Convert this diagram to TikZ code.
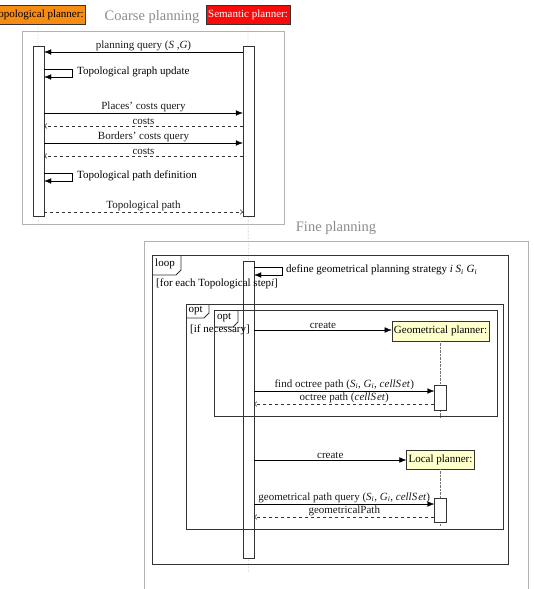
\documentclass[tikz,border=0pt]{standalone}
\usepackage{fontspec}
\setmainfont{Liberation Serif}
\usetikzlibrary{arrows.meta,calc}
\definecolor{orangebox}{RGB}{247,140,20}
\definecolor{redbox}{RGB}{250,10,10}
\definecolor{yellowbox}{RGB}{255,255,204}
\begin{document}
\begin{tikzpicture}[x=1pt,y=-1pt,
  font=\fontsize{11}{13}\selectfont,
  act/.style={draw=black!80, fill=white, minimum width=11pt, inner sep=0pt},
  msg/.style={draw=black, -{Latex[length=7pt,width=5.5pt]}},
  ret/.style={draw=black!80, dashed, -{Straight Barb[length=2.5pt,width=5pt]}},
  lifeline/.style={draw=black!55, densely dotted},
  frame/.style={draw=black!80, line width=0.8pt},
  bigframe/.style={draw=black!30, line width=0.8pt},
  ttl/.style={text=black!45, font=\fontsize{14.5}{16}\selectfont},
  lbl/.style={above, inner sep=1.2pt, text=black!90},
  actor/.style={draw=black!80, inner sep=2pt, minimum height=19pt}
]
\useasboundingbox (0,0) rectangle (533,589);
\clip (0,0) rectangle (533,589);

% actors
\node[actor, fill=orangebox] (topo) at (38,14.5) {Topological planner:};
\node[actor, fill=redbox, text=white] (sem) at (248,14.5) {Semantic planner:};
\node[ttl] (coarse) at (152,17) {Coarse planning};
\node[ttl] (fine) at (336,228) {Fine planning};

% lifelines
\draw[lifeline] (topo.south) -- (38.5,226);
\draw[lifeline] (sem.south) -- (248.5,572);

% coarse frame
\draw[bigframe] (22,31) rectangle (284,224);
% fine frame
\draw[bigframe] (144,241) rectangle (528,600);

% activations
\node[act, minimum height=170pt] (topA) at (38.5,131) {};
\node[act, minimum height=170pt] (semA) at (248.5,131) {};
\node[act, minimum height=297pt] (semB) at (248.5,409.5) {};

% coarse messages
\draw[msg] (semA.west |- 0,52) -- node[lbl] {planning query (\textit{S} ,\textit{G})} (topA.east |- 0,52);
\draw[msg] (topA.east |- 0,69) -- (72,69) -- (72,77) -- (topA.east |- 0,77);
\node[anchor=west, inner sep=0pt] (l1) at (77,72) {Topological graph update};
\draw[msg] (topA.east |- 0,113) -- node[lbl] {Places' costs query} (semA.west |- 0,113);
\draw[ret] (semA.west |- 0,126) -- node[lbl] {costs} (topA.east |- 0,126);
\draw[msg] (topA.east |- 0,143) -- node[lbl] {Borders' costs query} (semA.west |- 0,143);
\draw[ret] (semA.west |- 0,156) -- node[lbl] {costs} (topA.east |- 0,156);
\draw[msg] (topA.east |- 0,173) -- (72,173) -- (72,181) -- (topA.east |- 0,181);
\node[anchor=west, inner sep=0pt] (l2) at (77,176) {Topological path definition};
\draw[ret] (topA.east |- 0,212) -- node[lbl] {Topological path} (semA.west |- 0,212);

% fine planning: other actors
\node[actor, fill=yellowbox, minimum height=20pt] (geo) at (440.5,331) {Geometrical planner:};
\node[actor, fill=yellowbox, minimum height=19pt] (loc) at (440.5,459.5) {Local planner:};
\draw[lifeline] (geo.south) -- (440.5,418);
\draw[lifeline] (loc.south) -- (440.5,526);
\node[act, minimum width=12pt, minimum height=25pt] (geoA) at (440.5,397.5) {};
\node[act, minimum width=12pt, minimum height=24pt] (locA) at (440.5,510) {};

% loop frame
\draw[frame] (152,255) rectangle (508,564);
\draw[frame] (152,275) -- (176,275) -- (181,270) -- (181,255);
\node[anchor=west, inner sep=0pt] (loopt) at (155,264) {loop};
\node[anchor=west, inner sep=0pt] (loopc) at (156,284) {[for each Topological step\textit{i}]};

% opt outer
\draw[frame] (186,304) rectangle (503,529);
\draw[frame] (186,318) -- (204,318) -- (209,313) -- (209,304);
\node[anchor=west, inner sep=0pt] (optt1) at (188.5,311) {opt};
\node[anchor=west, inner sep=0pt] (optc1) at (190,330) {[if necessary]};

% opt inner
\draw[frame] (214,310) rectangle (497,416);
\draw[frame] (214,327) -- (233,327) -- (238,322) -- (238,310);
\node[anchor=west, inner sep=0pt] (optt2) at (217,318) {opt};

% fine messages
\draw[msg] (semB.east |- 0,267) -- (282,267) -- (282,275) -- (semB.east |- 0,275);
\node[anchor=west, inner sep=0pt] (l3) at (286,270) {define geometrical planning strategy \textit{i} \textit{S}\textsubscript{\textit{i}} \textit{G}\textsubscript{\textit{i}}};
\draw[msg] (semB.east |- 0,330) -- node[lbl] {create} (geo.west |- 0,330);
\draw[msg] (semB.east |- 0,391) -- node[lbl] {find octree path (\textit{S}\textsubscript{\textit{i}}, \textit{G}\textsubscript{\textit{i}}, \textit{cellS\kern1pt et})} (geoA.west |- 0,391);
\draw[ret] (geoA.west |- 0,404) -- node[lbl] {octree path (\textit{cellS\kern1pt et})} (semB.east |- 0,404);
\draw[msg] (semB.east |- 0,460) -- node[lbl] {create} (loc.west |- 0,460);
\draw[msg] (semB.east |- 0,504) -- node[lbl] {geometrical path query (\textit{S}\textsubscript{\textit{i}}, \textit{G}\textsubscript{\textit{i}}, \textit{cellS\kern1pt et})} (locA.west |- 0,504);
\draw[ret] (locA.west |- 0,517) -- node[lbl] {geometricalPath} (semB.east |- 0,517);
\end{tikzpicture}
\end{document}
